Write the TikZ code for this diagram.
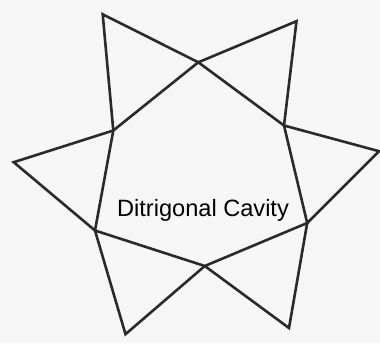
\documentclass[tikz,border=0pt]{standalone}
\usepackage{fontspec}
\setmainfont{Liberation Sans}
\definecolor{ink}{HTML}{2A2A2A}
\definecolor{paper}{HTML}{F6F6F6}
\begin{document}
\begin{tikzpicture}[x=1pt,y=-1pt,
  edge/.style={draw=ink,line width=2.6pt,line join=miter},
  lbl/.style={font=\fontsize{23.6}{28}\selectfont,text=black,inner sep=0pt,anchor=base}]
\fill[paper] (0,0) rectangle (380,343);
\useasboundingbox (0,0) rectangle (380,343);
% outer tips
\coordinate (T1) at (102.7,14.3);
\coordinate (T2) at (296.5,21.2);
\coordinate (T3) at (379.0,151.2);
\coordinate (T4) at (289.0,328.0);
\coordinate (T5) at (125.5,334.2);
\coordinate (T6) at (13.7,162.2);
% inner hexagon
\coordinate (I1) at (198.3,62.3);
\coordinate (I2) at (284.0,125.5);
\coordinate (I3) at (307.2,223.0);
\coordinate (I4) at (204.8,266.0);
\coordinate (I5) at (95.0,230.5);
\coordinate (I6) at (113.3,130.5);
\draw[edge] (I1) -- (I2) -- (I3) -- (I4) -- (I5) -- (I6) -- cycle;
\draw[edge] (I6) -- (T1) -- (I1);
\draw[edge] (I1) -- (T2) -- (I2);
\draw[edge] (I2) -- (T3) -- (I3);
\draw[edge] (I3) -- (T4) -- (I4);
\draw[edge] (I4) -- (T5) -- (I5);
\draw[edge] (I5) -- (T6) -- (I6);
\node[lbl] (cav) at (203,216) {Ditrigonal Cavity};
\end{tikzpicture}
\end{document}
